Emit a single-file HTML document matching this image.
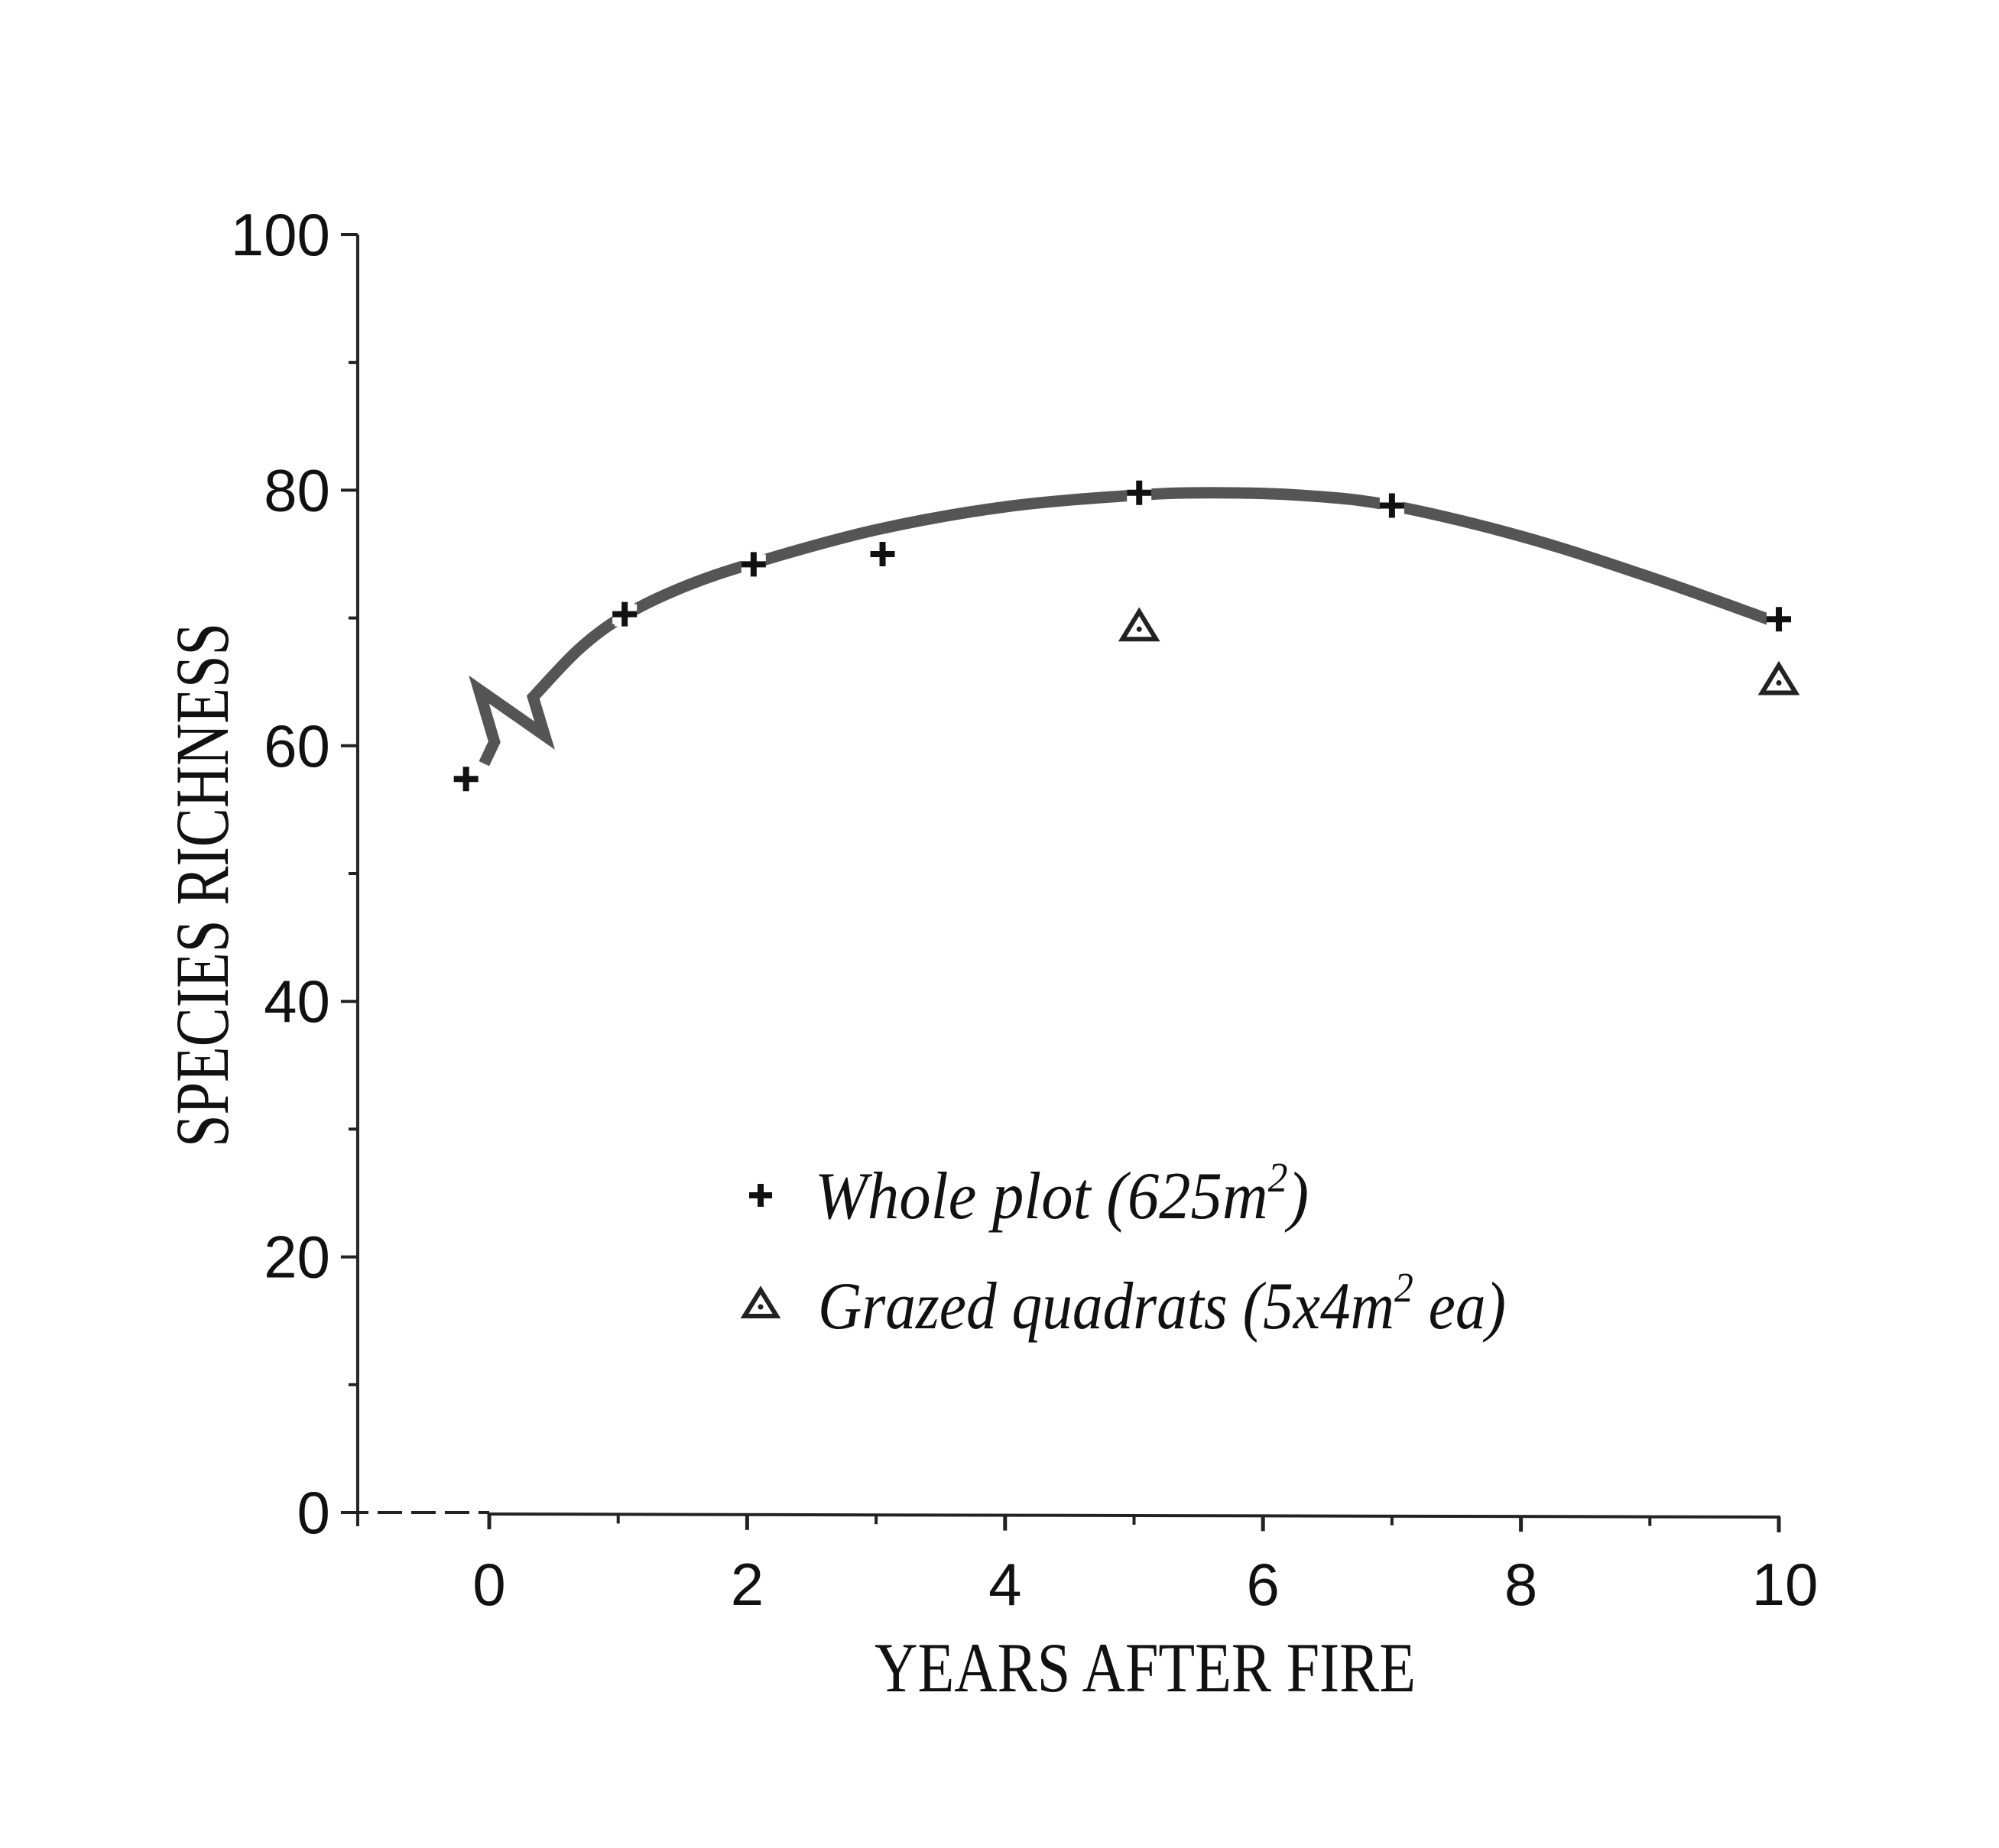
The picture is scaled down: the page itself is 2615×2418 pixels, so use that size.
<!DOCTYPE html>
<html><head><meta charset="utf-8">
<style>
html,body{margin:0;padding:0;background:#fff;}
svg{display:block;}
</style></head>
<body>
<svg id="chart" width="2615" height="2418" viewBox="0 0 2615 2418" xmlns="http://www.w3.org/2000/svg">
<rect width="2615" height="2418" fill="#fff"/>
<g id="axes"></g>
<g id="curve"></g>
<g id="marks"></g>
<text transform="translate(298,1158) rotate(-90)" text-anchor="middle" font-family="Liberation Serif, serif" font-size="100" textLength="686" lengthAdjust="spacingAndGlyphs" fill="#111">SPECIES RICHNESS</text>
<text x="1144" y="2213" font-family="Liberation Serif, serif" font-size="92" textLength="708" lengthAdjust="spacingAndGlyphs" fill="#111">YEARS AFTER FIRE</text>
<g>
  <g>
    <path d="M980 1564 H1010 M995 1549 V1579" stroke="#111" stroke-width="8"/>
    <text x="1066" y="1594" font-family="Liberation Serif, serif" font-style="italic" font-size="88" fill="#111" textLength="646" lengthAdjust="spacingAndGlyphs">Whole plot (625m<tspan font-size="55" dy="-35">2</tspan><tspan dy="35">)</tspan></text>
  </g>
  <g>
    <path d="M995 1688 L1016 1722 L974 1722 Z" fill="none" stroke="#222" stroke-width="6"/>
    <circle cx="995" cy="1710" r="3.5" fill="#222"/>
    <text x="1070" y="1738" font-family="Liberation Serif, serif" font-style="italic" font-size="88" fill="#111" textLength="900" lengthAdjust="spacingAndGlyphs">Grazed quadrats (5x4m<tspan font-size="55" dy="-35">2</tspan><tspan dy="35"> ea)</tspan></text>
  </g>
</g>
</svg>
<script>
const yTicks = [0,20,40,60,80,100];
const yMinorTicks = [10,30,50,70,90];
const xTicks = [0,2,4,6,8,10];
const xMinorTicks = [1,3,5,7,9];
const wholeYears = [-0.18,1.05,2.05,3.05,5.04,7.0,10.0];
const wholeRichness = [57.4,70.3,74.2,75.0,79.8,78.8,69.9];
const grazedYears = [5.04,10.0];
const grazedRichness = [69.3,65.1];
const zigYears = [-0.04,0.04,-0.08,0.43,0.34];
const zigRichness = [58.6,60.3,64.4,60.8,63.8];
const curveYears = [0.34,0.7,1.05,1.5,2.05,3,4,5,5.6,6.3,7,8,9,10];
const curveRichness = [63.8,67.6,70.2,72.4,74.3,76.9,78.7,79.6,79.8,79.6,78.8,76.4,73.2,69.6];

const NS='http://www.w3.org/2000/svg';
function X(v){return 640 + v*168.7;}
function Y(v){return 1979 - v*16.72;}
function mk(tag,attrs,parent){const e=document.createElementNS(NS,tag);for(const k in attrs)e.setAttribute(k,attrs[k]);parent.appendChild(e);return e;}
const axes=document.getElementById('axes');
const curveG=document.getElementById('curve');
const marks=document.getElementById('marks');

let a=mk('line',{x1:X(-1.02),y1:Y(100),x2:X(-1.02),y2:Y(0)+18,stroke:'#222','stroke-width':4},axes);

a=mk('line',{x1:X(-1.02)-18,y1:Y(0),x2:X(0),y2:Y(0),stroke:'#222','stroke-width':4,'stroke-dasharray':'32 12'},axes);

a=mk('line',{x1:X(0),y1:Y(0)+2,x2:X(10)+2,y2:Y(0)+6,stroke:'#222','stroke-width':4},axes);


yTicks.forEach(v=>{
  const t=mk('line',{x1:X(-1.02)-22,y1:Y(v),x2:X(-1.02),y2:Y(v),stroke:'#222','stroke-width':4},axes);
  
  const l=mk('text',{x:X(-1.02)-36,y:Y(v)+27,'text-anchor':'end','font-family':'Liberation Sans, sans-serif','font-size':78,fill:'#111'},axes);
  l.textContent=v;
  
});
yMinorTicks.forEach(v=>{
  const t=mk('line',{x1:X(-1.02)-12,y1:Y(v),x2:X(-1.02),y2:Y(v),stroke:'#222','stroke-width':4},axes);
  
});
xTicks.forEach(v=>{
  const y0=Y(0)+2+v*0.4;
  const t=mk('line',{x1:X(v),y1:y0,x2:X(v),y2:y0+20,stroke:'#222','stroke-width':5},axes);
  
  const l=mk('text',{x:X(v)+(v==10?8:0),y:2100,'text-anchor':'middle','font-family':'Liberation Sans, sans-serif','font-size':78,fill:'#111'},axes);
  l.textContent=v;
  
});
xMinorTicks.forEach(v=>{
  const y0=Y(0)+2+v*0.4;
  const t=mk('line',{x1:X(v),y1:y0,x2:X(v),y2:y0+12,stroke:'#222','stroke-width':4},axes);
  
});

// zigzag + smooth curve
let d='M'+X(zigYears[0])+' '+Y(zigRichness[0]);
for(let i=1;i<zigYears.length;i++) d+=' L'+X(zigYears[i])+' '+Y(zigRichness[i]);
const px=curveYears.map(X), py=curveRichness.map(Y);
for(let i=0;i<px.length-1;i++){
  const p0x=i>0?px[i-1]:px[i], p0y=i>0?py[i-1]:py[i];
  const p3x=i<px.length-2?px[i+2]:px[i+1], p3y=i<px.length-2?py[i+2]:py[i+1];
  const c1x=px[i]+(px[i+1]-p0x)/6, c1y=py[i]+(py[i+1]-p0y)/6;
  const c2x=px[i+1]-(p3x-px[i])/6, c2y=py[i+1]-(p3y-py[i])/6;
  d+=' C'+c1x+' '+c1y+' '+c2x+' '+c2y+' '+px[i+1]+' '+py[i+1];
}
const cp=mk('path',{d:d,fill:'none',stroke:'#555','stroke-width':15,'stroke-linejoin':'miter','stroke-miterlimit':6},curveG);


wholeYears.forEach((v,i)=>{
  const cx=X(v), cy=Y(wholeRichness[i]);
  const g=mk('g',{},marks);
  
  mk('path',{d:`M${cx-16} ${cy} H${cx+16} M${cx} ${cy-16} V${cy+16}`,stroke:'#fff','stroke-width':26},g);
  mk('path',{d:`M${cx-16} ${cy} H${cx+16} M${cx} ${cy-16} V${cy+16}`,stroke:'#111','stroke-width':8},g);
});
grazedYears.forEach((v,i)=>{
  const cx=X(v), cy=Y(grazedRichness[i]);
  const g=mk('g',{},marks);
  
  mk('path',{d:`M${cx} ${cy-20} L${cx+22} ${cy+16} L${cx-22} ${cy+16} Z`,fill:'none',stroke:'#222','stroke-width':6},g);
  mk('circle',{cx:cx,cy:cy+3,r:3.5,fill:'#222'},g);
});
</script>
</body></html>
